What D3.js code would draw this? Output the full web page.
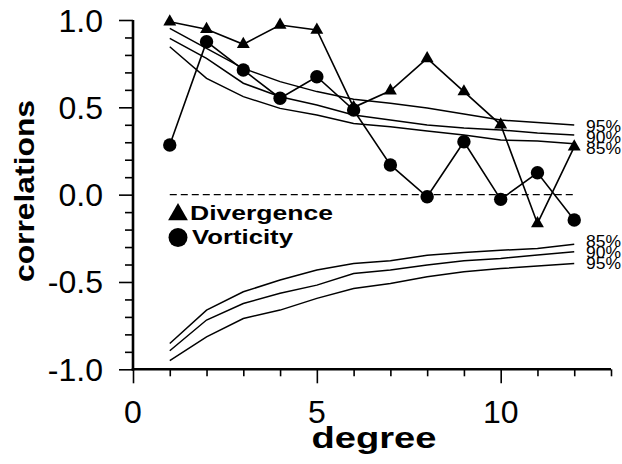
<!DOCTYPE html>
<html><head><meta charset="utf-8">
<script src="https://cdn.jsdelivr.net/npm/d3@7"></script>
<style>body{margin:0;background:#fff}svg{display:block}text{font-family:"Liberation Sans",Arimo,Helvetica,Arial,sans-serif}</style>
</head><body><svg id="c" width="622" height="464"></svg>
<script>
const degrees = [1,2,3,4,5,6,7,8,9,10,11,12];
const divergence = [0.99,0.947,0.861,0.971,0.943,0.50,0.595,0.78,0.59,0.40,-0.165,0.274];
const vorticity = [0.284,0.876,0.714,0.552,0.675,0.485,0.170,-0.012,0.303,-0.027,0.125,-0.145];
const upper95 = [0.952,0.838,0.723,0.647,0.590,0.546,0.523,0.496,0.462,0.427,0.413,0.399];
const upper90 = [0.895,0.780,0.638,0.561,0.513,0.456,0.427,0.399,0.381,0.370,0.353,0.341];
const upper85 = [0.847,0.666,0.561,0.494,0.456,0.408,0.389,0.364,0.341,0.313,0.307,0.292];
const lower85 = [-0.852,-0.661,-0.556,-0.489,-0.432,-0.394,-0.379,-0.347,-0.331,-0.318,-0.309,-0.284];
const lower90 = [-0.894,-0.718,-0.623,-0.565,-0.518,-0.451,-0.432,-0.403,-0.379,-0.365,-0.346,-0.327];
const lower95 = [-0.951,-0.814,-0.709,-0.661,-0.594,-0.537,-0.509,-0.470,-0.442,-0.423,-0.409,-0.394];
const yTickLabels = ["-1.0","-0.5","0.0","0.5","1.0"];
const xTickLabels = ["0","5","10"];
const legendLabels = ["Divergence","Vorticity"];

const svg = d3.select("#c");
const x = d3.scaleLinear().domain([0,13]).range([133,611]);
const y = d3.scaleLinear().domain([-1,1]).range([369.3,20]);

// axes ticks
const yAxis = d3.axisLeft(y).tickValues(d3.range(-10,11).map(d=>d/10)).tickSize(8).tickFormat("");
const gy = svg.append("g").attr("transform","translate(133,0)").call(yAxis);
gy.selectAll(".tick line").attr("stroke-width",1.6)
  .attr("x2", d => Math.abs(Math.round(d*10))%5===0 ? -14 : -8);
gy.select(".domain").remove();

const xAxis = d3.axisBottom(x).tickValues(d3.range(0,14)).tickSize(7).tickFormat("");
const gx = svg.append("g").attr("transform","translate(0,369.3)").call(xAxis);
gx.selectAll(".tick line").attr("stroke-width",1.6)
  .attr("y2", d => d%5===0 ? 14 : 7);
gx.select(".domain").remove();

svg.append("line").attr("x1",x(0)).attr("x2",x(0)).attr("y1",y(1)).attr("y2",y(-1)+1.3)
  .attr("stroke","#000").attr("stroke-width",2.6);
svg.append("line").attr("x1",x(0)-1.3).attr("x2",x(13)).attr("y1",y(-1)).attr("y2",y(-1))
  .attr("stroke","#000").attr("stroke-width",2.6);

// tick labels
svg.selectAll(".ylab").data(yTickLabels).enter().append("text")
  .attr("x",103).attr("y",d=>y(+d)+11.5)
  .attr("text-anchor","end").attr("font-size",32).text(d=>d);
svg.selectAll(".xlab").data(xTickLabels).enter().append("text")
  .attr("x",d=>x(+d)).attr("y",423)
  .attr("text-anchor","middle").attr("font-size",32).text(d=>d);

// axis titles
svg.append("text").attr("x",374).attr("y",448).attr("text-anchor","middle")
  .attr("font-weight","bold").attr("font-size",30)
  .attr("textLength",125).attr("lengthAdjust","spacingAndGlyphs").text("degree");
svg.append("text").attr("transform","translate(33.5,191) rotate(-90)").attr("text-anchor","middle")
  .attr("font-weight","bold").attr("font-size",28)
  .attr("textLength",182).attr("lengthAdjust","spacingAndGlyphs").text("correlations");

// zero dashed line
svg.append("line").attr("x1",x(1)).attr("x2",x(12)).attr("y1",y(0)).attr("y2",y(0))
  .attr("stroke","#000").attr("stroke-width",1.4).attr("stroke-dasharray","7,4");

// significance curves
const line = d3.line().x((d,i)=>x(degrees[i])).y(d=>y(d));
const curves = [
  {v:upper95,lab:"95%",dy:7},{v:upper90,lab:"90%",dy:7.5},{v:upper85,lab:"85%",dy:10},
  {v:lower85,lab:"85%",dy:3},{v:lower90,lab:"90%",dy:6},{v:lower95,lab:"95%",dy:6}
];
curves.forEach(c=>{
  svg.append("path").attr("d",line(c.v)).attr("fill","none").attr("stroke","#000").attr("stroke-width",1.5);
  svg.append("text").attr("x",586).attr("y",y(c.v[c.v.length-1])+c.dy)
    .attr("font-size",16).attr("textLength",35).attr("lengthAdjust","spacingAndGlyphs").text(c.lab);
});

// data series
svg.append("path").attr("d",line(divergence)).attr("fill","none").attr("stroke","#000").attr("stroke-width",1.6);
svg.append("path").attr("d",line(vorticity)).attr("fill","none").attr("stroke","#000").attr("stroke-width",1.6);
const tri = d3.symbol().type(d3.symbolTriangle).size(72);
svg.selectAll(".tri").data(divergence).enter().append("path")
  .attr("d",tri).attr("transform",(d,i)=>`translate(${x(degrees[i])},${y(d)})`).attr("fill","#000");
svg.selectAll(".dot").data(vorticity).enter().append("circle")
  .attr("cx",(d,i)=>x(degrees[i])).attr("cy",d=>y(d)).attr("r",6.7).attr("fill","#000");

// legend
svg.append("path").attr("d",d3.symbol().type(d3.symbolTriangle).size(170)())
  .attr("transform","translate(178,214.5)").attr("fill","#000");
svg.append("circle").attr("cx",178).attr("cy",237.5).attr("r",9.5).attr("fill","#000");
svg.append("text").attr("x",190).attr("y",220).attr("font-weight","bold")
  .attr("font-size",21).attr("textLength",143).attr("lengthAdjust","spacingAndGlyphs").text(legendLabels[0]);
svg.append("text").attr("x",192).attr("y",244.3).attr("font-weight","bold")
  .attr("font-size",21).attr("textLength",101).attr("lengthAdjust","spacingAndGlyphs").text(legendLabels[1]);
</script></body></html>
